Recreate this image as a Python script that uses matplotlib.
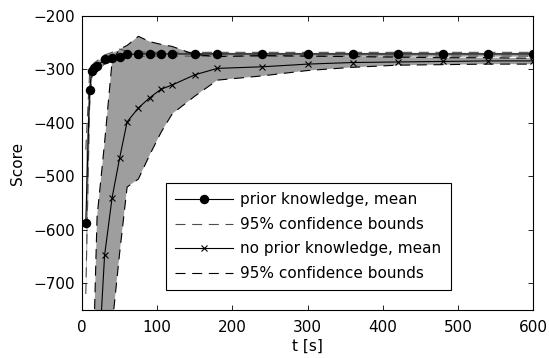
import matplotlib
matplotlib.use("Agg")
import matplotlib.pyplot as plt

plt.rcParams['font.family'] = ['DejaVu Sans']

# Learning curves: score over time with and without prior knowledge
t_prior = [5, 10, 13, 16, 20, 30, 40, 50, 60, 75, 90, 105, 120, 150, 180,
           240, 300, 360, 420, 480, 540, 600]
prior_mean = [-587, -338, -303, -298, -294, -281, -279, -276, -272, -271, -271,
              -271, -271, -271, -271, -271, -271, -271, -271, -271, -271, -271]
prior_upper = [-450, -310, -293, -288, -284, -273, -268, -262, -266, -267, -268,
               -268, -268, -268, -268, -268, -268, -268, -268, -268, -268, -268]
prior_lower = [-720, -370, -315, -306, -300, -290, -285, -281, -278, -276, -275,
               -275, -275, -275, -275, -275, -275, -275, -275, -275, -275, -275]

t_none = [10, 20, 30, 40, 50, 60, 75, 90, 105, 120, 150, 180,
          240, 300, 360, 420, 480, 540, 600]
none_mean = [-1500, -900, -648, -540, -466, -398, -372, -353, -337, -329, -310,
             -298, -295, -290, -287, -286, -285, -284, -284]
none_upper = [-1100, -576, -437, -285, -262, -255, -238, -248, -253, -257, -272,
              -276, -274, -275, -276, -277, -278, -278, -279]
none_lower = [-2500, -1300, -1000, -780, -644, -520, -505, -460, -418, -383, -350,
              -320, -312, -302, -296, -292, -291, -290, -290]

x_ticks = [0, 100, 200, 300, 400, 500, 600]
y_ticks = [-700, -600, -500, -400, -300, -200]

fig = plt.figure(figsize=(5.49, 3.58), dpi=100)
ax = fig.add_axes([0.1494, 0.1341, 0.8215, 0.8212])

fill_col = '0.62'
ax.fill_between(t_none, none_lower, none_upper, color=fill_col, lw=0, zorder=1)
ax.fill_between(t_prior, prior_lower, prior_upper, color=fill_col, lw=0, zorder=1)

dash = (9, 6)
h_pm, = ax.plot(t_prior, prior_mean, color='black', lw=0.8, marker='o',
                markersize=5.8, zorder=4, label='prior knowledge, mean')
h_pb, = ax.plot(t_prior, prior_upper, color='0.3', lw=0.8, dashes=dash,
                zorder=3, label='95% confidence bounds')
ax.plot(t_prior, prior_lower, color='0.3', lw=0.8, dashes=dash, zorder=3)

h_nm, = ax.plot(t_none, none_mean, color='black', lw=0.8, marker='x',
                markersize=4, markeredgewidth=0.8, zorder=4,
                label='no prior knowledge, mean')
h_nb, = ax.plot(t_none, none_upper, color='black', lw=0.8, dashes=dash,
                zorder=3, label='95% confidence bounds')
ax.plot(t_none, none_lower, color='black', lw=0.8, dashes=dash, zorder=3)

ax.set_xlim(0, 600)
ax.set_ylim(-750, -200)
ax.set_xticks(x_ticks)
ax.set_yticks(y_ticks)
ax.tick_params(direction='in', top=True, right=True, length=3.6, width=0.6,
               labelsize=11)
ax.tick_params(axis='x', pad=7)
ax.tick_params(axis='y', pad=5)
for s in ax.spines.values():
    s.set_linewidth(0.8)

ax.set_xlabel('t [s]', fontsize=11, labelpad=3)
ax.set_ylabel('Score', fontsize=11, labelpad=6)

leg = ax.legend(handles=[h_pm, h_pb, h_nm, h_nb], loc='upper left',
                bbox_to_anchor=(0.186, 0.432), fontsize=11, handlelength=3.8,
                handletextpad=0.45, labelspacing=0.62, borderpad=0.62,
                borderaxespad=0, fancybox=False, framealpha=1, edgecolor='black')
leg.get_frame().set_linewidth(0.8)

fig.savefig('out.png', dpi=100)
